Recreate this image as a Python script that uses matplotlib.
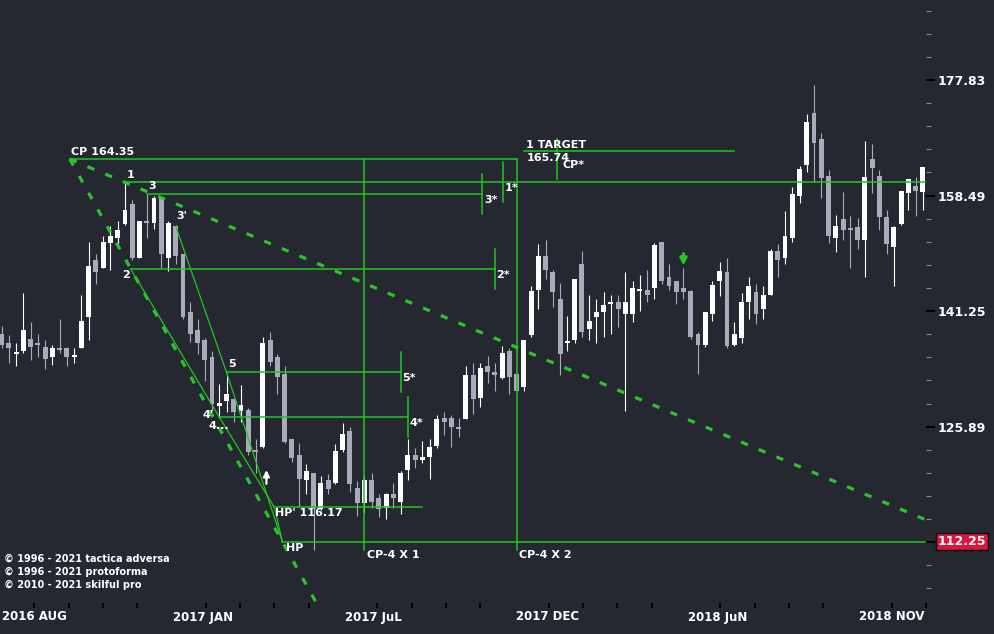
import numpy as np
import matplotlib.pyplot as plt
from matplotlib.ticker import FixedLocator, NullFormatter

# weekly candles (price units)
opens = [138.0, 136.8, 135.3, 135.8, 137.4, 136.9, 136.3, 135.0, 136.2, 136.1,
         135.0, 136.2, 140.4, 148.6, 147.5, 151.1, 152.0, 154.0, 157.1, 148.9,
         154.5, 154.2, 158.1, 148.9, 153.7, 149.5, 141.1, 138.6, 137.2, 134.9,
         128.5, 129.2, 129.4, 127.9, 128.0, 122.9, 123.4, 137.3, 135.0, 132.7,
         124.4, 122.4, 119.4, 120.2, 116.0, 119.4, 119.0, 123.0, 125.4, 118.4,
         116.7, 119.4, 117.2, 116.1, 117.7, 116.8, 120.6, 122.4, 121.8, 122.2,
         123.5, 127.0, 127.0, 125.8, 126.9, 132.6, 129.6, 133.7, 133.0, 132.2,
         135.7, 132.7, 130.9, 137.9, 144.2, 149.2, 146.8, 142.9, 136.8, 137.2,
         148.1, 138.7, 140.4, 141.1, 142.3, 142.6, 140.8, 140.9, 144.1, 144.3,
         144.5, 151.3, 146.1, 145.5, 144.5, 144.1, 138.1, 136.5, 140.8, 145.6,
         146.8, 136.5, 137.5, 142.5, 143.9, 141.5, 143.6, 149.9, 148.9, 151.9,
         158.4, 163.4, 172.1, 167.7, 161.6, 151.9, 154.8, 153.4, 153.6, 151.6,
         164.4, 161.6, 155.2, 150.5, 154.0, 158.9, 160.0, 159.0]
highs = [139.2, 137.9, 136.8, 143.8, 139.7, 138.1, 137.2, 136.6, 140.2, 136.3,
         136.1, 143.6, 151.3, 149.6, 152.2, 153.7, 154.5, 160.6, 157.8, 154.6,
         158.7, 158.4, 158.1, 154.5, 153.9, 149.5, 142.6, 140.1, 137.5, 135.8,
         131.3, 132.7, 129.4, 131.2, 128.3, 124.3, 137.7, 138.4, 135.4, 133.8,
         124.4, 123.8, 121.3, 120.2, 119.9, 120.1, 123.7, 126.3, 125.8, 119.3,
         119.8, 120.2, 117.7, 117.8, 119.0, 120.4, 124.3, 123.3, 124.1, 124.4,
         127.3, 127.7, 127.4, 127.0, 133.8, 134.2, 134.1, 135.1, 134.2, 136.4,
         136.2, 132.7, 137.2, 144.8, 151.0, 151.6, 147.2, 145.2, 140.6, 145.9,
         149.9, 143.5, 143.0, 143.9, 143.5, 143.6, 146.8, 145.6, 146.5, 147.2,
         151.1, 151.3, 148.1, 145.6, 147.4, 144.2, 138.4, 141.1, 145.6, 148.3,
         148.9, 139.7, 143.8, 146.1, 145.1, 144.9, 150.2, 151.0, 156.0, 159.8,
         163.2, 171.9, 176.9, 168.7, 162.6, 155.4, 159.0, 155.3, 155.0, 167.3,
         166.8, 162.6, 156.3, 153.7, 159.2, 161.1, 161.4, 163.0]
lows = [136.1, 134.1, 133.8, 135.5, 134.6, 135.0, 133.4, 133.9, 135.5, 133.8,
        134.2, 136.1, 137.3, 145.1, 147.4, 147.2, 150.7, 153.9, 148.6, 148.9,
        152.0, 153.3, 147.5, 147.0, 148.1, 140.2, 137.0, 135.4, 131.8, 127.9,
        127.0, 127.8, 126.5, 126.5, 122.4, 120.2, 123.3, 133.8, 130.1, 123.8,
        121.5, 116.3, 117.7, 111.3, 115.8, 117.7, 118.9, 122.8, 117.9, 115.2,
        115.5, 116.1, 115.0, 114.8, 116.1, 115.4, 119.4, 120.8, 121.4, 119.5,
        123.2, 124.8, 123.4, 124.6, 126.8, 127.5, 128.4, 131.5, 130.5, 132.0,
        130.0, 130.4, 130.4, 137.6, 141.6, 145.8, 141.8, 132.6, 135.8, 136.9,
        137.6, 137.2, 136.9, 137.7, 138.0, 139.0, 127.9, 139.7, 141.2, 142.5,
        142.9, 145.1, 144.2, 142.3, 142.9, 137.4, 132.7, 136.3, 139.8, 143.4,
        136.2, 136.4, 136.9, 140.2, 139.4, 140.2, 143.5, 146.2, 148.1, 151.3,
        157.4, 162.2, 160.6, 158.1, 151.1, 149.8, 151.7, 147.5, 150.2, 146.1,
        158.9, 153.1, 149.6, 144.8, 153.9, 156.3, 155.3, 156.3]
closes = [136.6, 136.1, 135.5, 138.6, 136.3, 136.5, 134.7, 136.1, 135.9, 134.9,
          135.1, 139.9, 147.8, 146.8, 151.3, 152.3, 153.1, 156.2, 148.9, 154.6,
          154.2, 158.1, 149.6, 154.2, 149.2, 140.4, 138.1, 136.8, 134.6, 128.8,
          128.9, 130.0, 127.8, 128.7, 122.7, 122.7, 136.8, 134.3, 132.3, 124.0,
          122.0, 119.5, 120.5, 116.0, 119.0, 118.3, 122.9, 125.0, 118.9, 116.7,
          119.4, 116.8, 116.0, 117.7, 117.2, 120.2, 122.4, 121.8, 122.2, 123.4,
          126.8, 126.5, 125.8, 125.6, 132.5, 129.4, 133.5, 132.9, 132.5, 135.5,
          132.3, 130.4, 137.2, 144.1, 149.2, 147.1, 143.9, 135.4, 137.0, 145.9,
          138.4, 139.8, 141.1, 142.1, 142.6, 141.5, 142.6, 144.5, 144.3, 143.6,
          150.8, 145.5, 144.9, 143.9, 143.9, 137.6, 136.6, 141.1, 145.0, 147.0,
          136.4, 138.0, 142.5, 144.8, 140.9, 143.6, 149.9, 148.7, 152.2, 158.7,
          162.7, 170.5, 167.0, 161.3, 152.3, 153.7, 153.1, 153.1, 151.7, 161.4,
          162.9, 155.2, 151.0, 153.6, 159.2, 161.1, 159.2, 163.0]

# analysis points (bar index, price)
cp_pt = (9.4, 164.35)
p1 = (16.85, 160.6)
p2 = (17.8, 147.3)
p3 = (20.0, 158.7)
p3b = (24.0, 153.7)
p4 = (30.0, 127.1)
p5 = (31.0, 132.9)
hp1_pt = (37.6, 116.17)
hp_pt = (38.7, 112.25)
fan_end = (127.2, 114.8)
target_price = 165.74

star_bars = {'1*': 69.05, '2*': 67.95, '3*': 66.2, '4*': 56.0, '5*': 55.0, 'CP*': 76.6}
x1_bar, x2_bar = 49.9, 71.0
target_span = (72.0, 101.0)
hp1_end = 58.0
last_bar = 127.3

month_pos = [-0.23, 23.41, 47.05, 70.7, 94.34, 117.98]
month_labels = ['2016 AUG', '2017 JAN', '2017 JuL', '2017 DEC', '2018 JuN', '2018 NOV']
ytick_vals = [10 ** 2.05, 10 ** 2.10, 10 ** 2.15, 10 ** 2.20, 10 ** 2.25]
ytick_labels = ['', '125.89', '141.25', '158.49', '177.83']
last_price = 112.25

bg = '#252830'
up_col = '#ffffff'
dn_col = '#a9abba'
green = '#22c522'

fig = plt.figure(figsize=(9.95, 6.34), dpi=100, facecolor=bg)
ax = fig.add_axes([0, 31 / 634, 926 / 995, 603 / 634])
ax.set_facecolor(bg)
ax.set_yscale('log')
ax.set_xlim(-0.23, 127.32)
ax.set_ylim(105.6, 192.6)

# candles
o = np.array(opens); h = np.array(highs); l = np.array(lows); c = np.array(closes)
x = np.arange(len(o))
cols = np.where(c >= o, up_col, dn_col)
ax.vlines(x, l, h, colors=cols, lw=0.8, zorder=3)
ax.bar(x, np.maximum(np.abs(c - o), 0.25), bottom=np.minimum(o, c), width=0.68,
       color=cols, linewidth=0, zorder=3)

# fan lines (thick dashed)
def log_line(a, b, xb):
    t = (xb - a[0]) / (b[0] - a[0])
    return a[1] * (b[1] / a[1]) ** t

dash_kw = dict(color='#2bc42b', lw=2.3, dashes=(2.3, 3.7), solid_capstyle='butt', zorder=4)
ax.plot([cp_pt[0], 46], [cp_pt[1], log_line(cp_pt, hp_pt, 46)], **dash_kw)
ax.plot([cp_pt[0], fan_end[0]], [cp_pt[1], fan_end[1]], **dash_kw)

# thin swing lines
thin = dict(color=green, lw=0.9, zorder=4)
ax.plot([p2[0], p4[0], hp1_pt[0], hp_pt[0]], [p2[1], p4[1], hp1_pt[1], hp_pt[1]], **thin)
ax.plot([p3b[0], p5[0], hp_pt[0]], [p3b[1], p5[1], hp_pt[1]], **thin)

# horizontal levels
lvl = dict(color=green, lw=1.1, zorder=4)
ax.plot([cp_pt[0], x2_bar], [cp_pt[1]] * 2, **lvl)
ax.plot([p1[0], last_bar], [p1[1]] * 2, **lvl)
ax.plot([p3[0], star_bars['3*']], [p3[1]] * 2, **lvl)
ax.plot([p2[0], star_bars['2*']], [p2[1]] * 2, **lvl)
ax.plot([p5[0], star_bars['5*']], [p5[1]] * 2, **lvl)
ax.plot([p4[0], star_bars['4*']], [p4[1]] * 2, **lvl)
ax.plot([hp1_pt[0], hp1_end], [hp1_pt[1]] * 2, **lvl)
ax.plot([hp_pt[0], last_bar], [hp_pt[1]] * 2, **lvl)
ax.plot(target_span, [target_price] * 2, **lvl)

# vertical time projections
ax.plot([x1_bar, x1_bar], [cp_pt[1], 111.3], **lvl)
ax.plot([x2_bar, x2_bar], [cp_pt[1], 111.3], **lvl)

# star markers
half = 10 ** 0.0087
star_levels = {'1*': p1[1], '2*': p2[1], '3*': p3[1], '4*': p4[1], '5*': p5[1], 'CP*': cp_pt[1]}
for k, b in star_bars.items():
    ax.plot([b, b], [star_levels[k] / half, star_levels[k] * half], **lvl)

# labels
lab = dict(color='white', fontsize=8, fontweight='bold', textcoords='offset pixels',
           ha='left', va='center', zorder=6)
ax.annotate('CP 164.35', cp_pt, xytext=(1, 7), **lab)
ax.annotate('1', p1, xytext=(3, 7), **lab)
ax.annotate('3', p3, xytext=(2, 8), **lab)
ax.annotate('2', p2, xytext=(-9, -6), **lab)
ax.annotate("3'", p3b, xytext=(1, 10), **lab)
ax.annotate('5', p5, xytext=(2, 8), **lab)
ax.annotate("4'", p4, xytext=(-17, 2), **lab)
ax.annotate('4...', p4, xytext=(-11, -9), **lab)
ax.annotate("HP' 116.17", hp1_pt, xytext=(1, -6), **lab)
ax.annotate('HP', hp_pt, xytext=(4, -6), **lab)
ax.annotate('CP-4 X 1', (x1_bar, hp_pt[1]), xytext=(3, -13), **lab)
ax.annotate('CP-4 X 2', (x2_bar, hp_pt[1]), xytext=(2, -13), **lab)
ax.annotate('1 TARGET', (target_span[0], target_price), xytext=(2, 6), **lab)
ax.annotate('165.74', (target_span[0], target_price), xytext=(3, -7), **lab)
for k, b in star_bars.items():
    dx = 5 if k == 'CP*' else 2
    ax.annotate(k, (b, star_levels[k]), xytext=(dx, -6), **lab)

# arrows
ax.annotate('', xy=(36.5, 120.9), xytext=(36.5, 118.6),
            arrowprops=dict(arrowstyle='-|>', color='white', lw=1.6, mutation_scale=9))
ax.annotate('', xy=(94.0, 147.4), xytext=(94.0, 150.0),
            arrowprops=dict(arrowstyle='-|>', color=green, lw=2.2, mutation_scale=10))

# axes styling
for s in ax.spines.values():
    s.set_visible(False)
ax.yaxis.tick_right()
ax.yaxis.set_major_locator(FixedLocator(ytick_vals))
ax.set_yticklabels(ytick_labels)
minor = [10 ** (2.02 + 0.01 * k) for k in range(27)]
ax.yaxis.set_minor_locator(FixedLocator(minor))
ax.yaxis.set_minor_formatter(NullFormatter())
ax.tick_params(axis='y', which='major', length=6.5, width=1.5, color='black',
               labelcolor='white', labelsize=9, pad=1.5)
ax.tick_params(axis='y', which='minor', length=3.6, width=0.8, color='#8a8a8a')
for t in ax.get_yticklabels():
    t.set_fontweight('bold')

step = (month_pos[-1] - month_pos[0]) / 25
xt = [month_pos[0] + step * k for k in range(1, 28) if k % 5 != 0]
ax.set_xticks(xt)
ax.set_xticklabels([])
ax.tick_params(axis='x', which='both', length=3.6, width=1.4, color='black')
for p, m in zip(month_pos, month_labels):
    ax.annotate(m, (p, 0), xycoords=('data', 'axes fraction'), xytext=(2, -14),
                textcoords='offset pixels', color='white', fontsize=8.5,
                fontweight='bold', ha='left', va='center', annotation_clip=False)

# last price box
ax.annotate(f'{last_price:.2f}', (1, last_price), xycoords=('axes fraction', 'data'),
            xytext=(12, 0), textcoords='offset pixels', color='white', fontsize=9,
            fontweight='bold', ha='left', va='center', annotation_clip=False,
            bbox=dict(boxstyle='square,pad=0.15', fc='#dc143c', ec='black', lw=1))

for i, t in enumerate(['\u00a9 1996 - 2021 tactica adversa', '\u00a9 1996 - 2021 protoforma',
                       '\u00a9 2010 - 2021 skilful pro']):
    fig.text(4 / 995, 1 - (559 + 13 * i) / 634, t, color='white', fontsize=7,
             fontweight='bold', ha='left', va='center')

fig.savefig('out.png', dpi=100, facecolor=bg)
